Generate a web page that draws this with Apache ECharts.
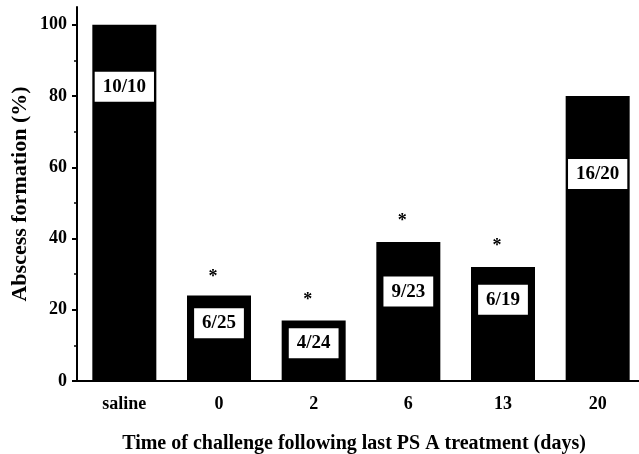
<!DOCTYPE html>
<html>
<head>
<meta charset="utf-8">
<script src="https://cdn.jsdelivr.net/npm/echarts@6/dist/echarts.min.js"></script>
<style>html,body{margin:0;padding:0;background:#fff}#c{width:639px;height:454px}</style>
</head>
<body>
<div id="c"></div>
<script>
// ---- data ----
var categories = ['saline', '0', '2', '6', '13', '20'];
var abscessPct = [100, 24, 17, 39, 32, 80];
var ratioLabels = ['10/10', '6/25', '4/24', '9/23', '6/19', '16/20'];
var ratioLabelY = [82.6, 16.2, 10.6, 25.1, 22.8, 58.1];
var significance = ['', '*', '*', '*', '*', ''];
var asteriskY = [null, 29.1, 22.7, 44.7, 37.9, null];
var yTicks = [0, 20, 40, 60, 80, 100];
var yMinorTicks = [10, 30, 50, 70, 90];

var FONT = '"Liberation Serif", "Times New Roman", serif';

var labelData = categories.map(function (c, i) { return [i, ratioLabelY[i], ratioLabels[i]]; });
var starData = [];
categories.forEach(function (c, i) {
  if (significance[i]) starData.push([i, asteriskY[i], significance[i]]);
});

var chart = echarts.init(document.getElementById('c'));
chart.setOption({
  animation: false,
  backgroundColor: '#fff',
  grid: { left: 77, right: -6, top: 7, bottom: 73, containLabel: false, outerBoundsMode: 'none' },
  xAxis: {
    type: 'category',
    data: categories,
    boundaryGap: true,
    axisLine: { lineStyle: { color: '#000', width: 2 } },
    axisTick: { alignWithLabel: true, length: 5, lineStyle: { color: '#000', width: 2 } },
    axisLabel: { color: '#000', fontFamily: FONT, fontWeight: 'bold', fontSize: 18, margin: 14 },
    name: 'Time of challenge following last PS A treatment (days)',
    nameLocation: 'middle',
    nameGap: 53,
    nameMoveOverlap: false,
    nameTextStyle: { color: '#000', fontFamily: FONT, fontWeight: 'bold', fontSize: 20, align: 'center', padding: [0, 14, 0, 0] },
    splitLine: { show: false }
  },
  yAxis: [{
    type: 'value',
    min: 0,
    max: 105,
    interval: 20,
    axisLine: { show: true, lineStyle: { color: '#000', width: 2 } },
    axisTick: { show: true, length: 5, customValues: yTicks, lineStyle: { color: '#000', width: 2 } },
    axisLabel: { color: '#000', fontFamily: FONT, fontWeight: 'bold', fontSize: 18, margin: 10, customValues: yTicks },
    splitLine: { show: false },
    name: 'Abscess formation (%)',
    nameLocation: 'middle',
    nameGap: 46,
    nameMoveOverlap: false,
    nameRotate: 90,
    nameTextStyle: { color: '#000', fontFamily: FONT, fontWeight: 'bold', fontSize: 22 }
  }, {
    type: 'value',
    min: 0,
    max: 105,
    position: 'left',
    axisLine: { show: false },
    axisTick: { show: true, length: 3, customValues: yMinorTicks, lineStyle: { color: '#000', width: 1.5 } },
    axisLabel: { show: false },
    splitLine: { show: false }
  }],
  series: [{
    type: 'bar',
    data: abscessPct,
    barWidth: 64,
    itemStyle: { color: '#000' },
    silent: true
  }, {
    type: 'scatter',
    data: labelData,
    symbolSize: 0,
    silent: true,
    z: 5,
    itemStyle: { opacity: 1 },
    label: {
      show: true,
      position: 'inside',
      formatter: function (p) { return p.data[2]; },
      color: '#000',
      fontFamily: FONT,
      fontWeight: 'bold',
      fontSize: 19,
      backgroundColor: '#fff',
      padding: [6, 8, 5, 8]
    }
  }, {
    type: 'scatter',
    data: starData,
    symbolSize: 0,
    silent: true,
    z: 5,
    itemStyle: { opacity: 1 },
    label: {
      show: true,
      position: 'inside',
      offset: [-6, 0],
      formatter: function (p) { return p.data[2]; },
      color: '#000',
      fontFamily: FONT,
      fontWeight: 'bold',
      fontSize: 18
    }
  }]
});
</script>
</body>
</html>
